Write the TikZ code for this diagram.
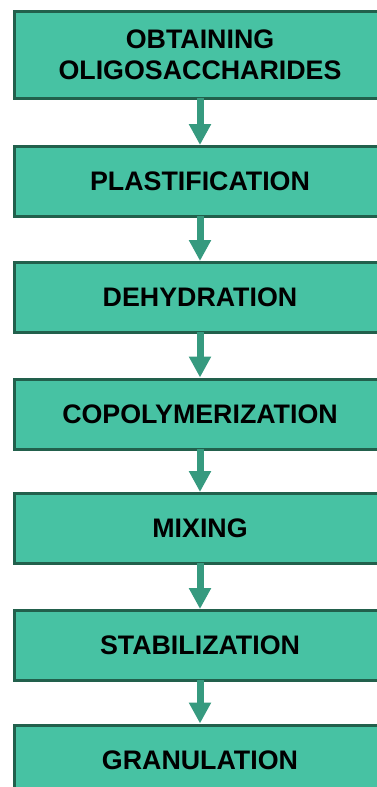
\documentclass[tikz,border=0pt]{standalone}
\usepackage{fontspec}
\setmainfont{Liberation Sans}
\usetikzlibrary{arrows.meta}
\definecolor{stepfill}{HTML}{47C2A3}
\definecolor{stepline}{HTML}{22604C}
\definecolor{steparrow}{HTML}{369A7F}
\tikzset{
    step_box/.style={rectangle, draw=stepline, line width=3pt, fill=stepfill, minimum width=372pt, minimum height=70pt, inner sep=0pt, align=center, font=\fontsize{26.8}{31}\selectfont\bfseries},
    step_arrow/.style={-{Triangle[width=21pt, length=21pt]}, line width=7pt, draw=steparrow, color=steparrow, shorten <=-2pt}
}

\begin{document}
\begin{tikzpicture}[x=1pt, y=1pt]
\useasboundingbox (0,0) rectangle (376,-787);

\node[step_box, minimum height=87pt] (obtain) at (200, -55.0) {OBTAINING\\OLIGOSACCHARIDES};
\node[step_box] (plast)  at (200,-181.5) {PLASTIFICATION};
\node[step_box] (dehyd)  at (200,-297.5) {DEHYDRATION};
\node[step_box] (copoly) at (200,-414.0) {COPOLYMERIZATION};
\node[step_box] (mix)    at (200,-528.5) {MIXING};
\node[step_box] (stab)   at (200,-645.5) {STABILIZATION};
\node[step_box] (gran)   at (200,-760.0) {GRANULATION};

\foreach \a/\b in {obtain/plast, plast/dehyd, dehyd/copoly, copoly/mix, mix/stab, stab/gran} {
    \draw[step_arrow] (\a.south) -- (\b.north);
}

\end{tikzpicture}
\end{document}
